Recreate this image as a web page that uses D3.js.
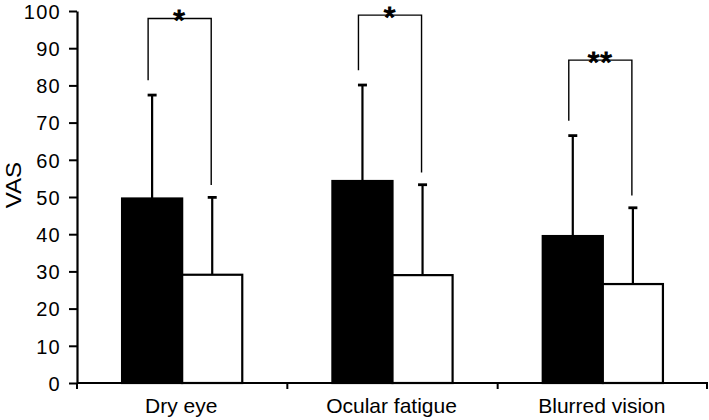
<!DOCTYPE html>
<html>
<head>
<meta charset="utf-8">
<script src="https://cdn.jsdelivr.net/npm/d3@7"></script>
<style>
  html, body { margin: 0; padding: 0; background: #fff; }
  svg { display: block; }
  text { font-family: "Liberation Sans", Arial, sans-serif; fill: #000; }
</style>
</head>
<body>
<div id="chart"></div>
<script>
// ---- Data ----
const categories = ["Dry eye", "Ocular fatigue", "Blurred vision"];
const groups = ["before", "after"];
const meanBefore = [49.6, 54.3, 39.5];
const sdBefore = [27.8, 25.8, 27.0];
const meanAfter = [29.1, 29.0, 26.6];
const sdAfter = [20.8, 24.3, 20.5];
const bracketLevel = [98.0, 98.9, 86.8];
const sigLabels = ["*", "*", "**"];
const yTicks = [0, 10, 20, 30, 40, 50, 60, 70, 80, 90, 100];
const yLabel = "VAS";

// ---- Layout ----
const W = 709, H = 420;
const margin = { left: 77, right: 1, top: 11, bottom: 37 };

const svg = d3.select("#chart").append("svg")
  .attr("width", W).attr("height", H);

const x = d3.scaleBand().domain(categories)
  .range([margin.left, W - margin.right]).padding(0);
const xg = d3.scaleBand().domain(groups)
  .range([0, x.bandwidth()]).paddingInner(0).paddingOuter(0.75);
const y = d3.scaleLinear().domain([0, 100])
  .range([H - margin.bottom, margin.top]);

const fills = { before: "#000", after: "#fff" };

const rows = [];
categories.forEach((c, i) => {
  rows.push({ cat: c, g: "before", mean: meanBefore[i], sd: sdBefore[i] });
  rows.push({ cat: c, g: "after", mean: meanAfter[i], sd: sdAfter[i] });
});

// error bars (upward only)
const cap = 9;
const eb = svg.append("g").attr("stroke", "#000").attr("stroke-width", 2.2);
rows.forEach(d => {
  const cx = x(d.cat) + xg(d.g) + xg.bandwidth() / 2;
  eb.append("line").attr("x1", cx).attr("x2", cx)
    .attr("y1", y(d.mean)).attr("y2", y(d.mean + d.sd));
  eb.append("line").attr("x1", cx - cap / 2).attr("x2", cx + cap / 2)
    .attr("y1", y(d.mean + d.sd)).attr("y2", y(d.mean + d.sd))
    .attr("stroke-width", 2.8);
});

// bars
svg.append("g").selectAll("rect").data(rows).join("rect")
  .attr("x", d => x(d.cat) + xg(d.g))
  .attr("y", d => y(d.mean))
  .attr("width", xg.bandwidth())
  .attr("height", d => y(0) - y(d.mean))
  .attr("fill", d => fills[d.g])
  .attr("stroke", "#000")
  .attr("stroke-width", 2.2);

// significance brackets
const br = svg.append("g");
categories.forEach((c, i) => {
  const xl = x(c) + xg("before") + xg.bandwidth() / 2 - 4;
  const xr = x(c) + xg("after") + xg.bandwidth() / 2 - 1;
  const yTop = y(bracketLevel[i]);
  const yl = y(meanBefore[i] + sdBefore[i] + 4);
  const yr = y(meanAfter[i] + sdAfter[i] + 3.3);
  br.append("path")
    .attr("d", `M${xl},${yl}V${yTop}H${xr}V${yr}`)
    .attr("fill", "none").attr("stroke", "#000").attr("stroke-width", 1.4);
  br.append("text")
    .attr("x", (xl + xr) / 2).attr("y", yTop + 11.5)
    .attr("text-anchor", "middle")
    .attr("font-size", 30)
    .attr("stroke", "#000").attr("stroke-width", 1.2)
    .attr("letter-spacing", 1)
    .text(sigLabels[i]);
});

// y axis
const yAxis = svg.append("g")
  .attr("transform", `translate(${margin.left},0)`)
  .call(d3.axisLeft(y).tickValues(yTicks).tickSize(8).tickSizeOuter(0).tickPadding(8));
yAxis.select(".domain").attr("stroke", "#000").attr("stroke-width", 2.2);
yAxis.selectAll(".tick line").attr("stroke", "#000").attr("stroke-width", 2);
yAxis.selectAll(".tick text")
  .attr("font-family", "'Liberation Sans', Arial, sans-serif")
  .attr("font-size", 20).attr("letter-spacing", 1.3).attr("fill", "#000")
  .attr("dy", "0.36em");
// x axis
const xAxis = svg.append("g");
xAxis.append("line")
  .attr("x1", margin.left).attr("x2", W - margin.right)
  .attr("y1", y(0)).attr("y2", y(0))
  .attr("stroke", "#000").attr("stroke-width", 2.2);
const edges = [x(categories[0])].concat(categories.map(c => x(c) + x.bandwidth()));
xAxis.selectAll("line.edge").data(edges).join("line")
  .attr("class", "edge")
  .attr("x1", d => Math.min(d, W - 2)).attr("x2", d => Math.min(d, W - 2))
  .attr("y1", y(0)).attr("y2", y(0) + 6)
  .attr("stroke", "#000").attr("stroke-width", 2);
xAxis.selectAll("text").data(categories).join("text")
  .attr("x", d => x(d) + x.bandwidth() / 2 - 1)
  .attr("y", y(0) + 30)
  .attr("text-anchor", "middle")
  .attr("font-size", 21)
  .text(d => d);

// y label
svg.append("text")
  .attr("transform", `translate(21,${(y(0) + y(100)) / 2 - 12}) rotate(-90) scale(1.12,1)`)
  .attr("text-anchor", "middle")
  .attr("font-size", 21.5)
  .text(yLabel);
</script>
</body>
</html>
